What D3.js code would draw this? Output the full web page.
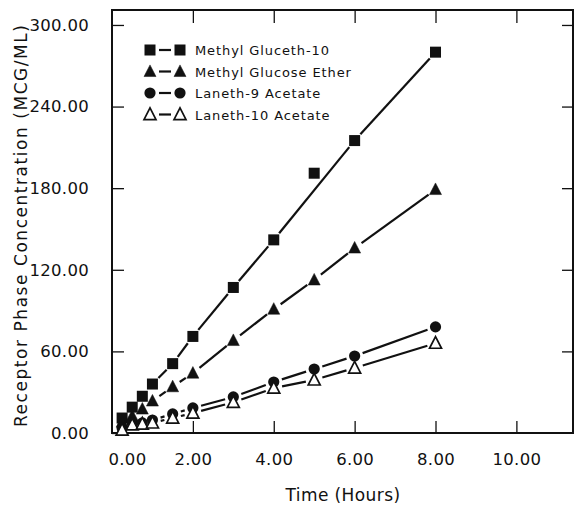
<!DOCTYPE html>
<html>
<head>
<meta charset="utf-8">
<script src="https://cdn.jsdelivr.net/npm/d3@7"></script>
<style>
  body { margin: 0; background: #fff; }
  text { font-family: "DejaVu Sans", sans-serif; fill: #111; }
</style>
</head>
<body>
<div id="chart"></div>
<script>
const w = 575;
const h = 505;

// hours
const times = [0.25, 0.5, 0.75, 1, 1.5, 2, 3, 4, 5, 6, 8];
const glucethVals = [11, 19, 27, 36, 51, 71, 107, 142, 191, 215, 280];
const glucoseVals = [8, 12.5, 17.6, 23.5, 34, 44, 68, 91, 112.5, 136, 179];
const laneth9Vals = [3.7, 7.4, 7.4, 9.5, 14, 18.4, 26.5, 37.5, 47, 56.6, 78];
const laneth10Vals = [2.2, 6, 6.6, 7.4, 11, 14.7, 22.5, 33, 39, 47.8, 66];
// the drawn line skips the 5 h point of gluceth (it sits off the line)
const glucethLineSkip = [5];

const names = ['Methyl Gluceth-10', 'Methyl Glucose Ether', 'Laneth-9 Acetate', 'Laneth-10 Acetate'];
const symbols = ['square', 'triangle', 'circle', 'opentri'];
const xTicks = [0, 2, 4, 6, 8, 10];
const yTicks = [0, 60, 120, 180, 240, 300];

const series = [
    { name: names[0], sym: symbols[0], vals: glucethVals, skip: glucethLineSkip },
    { name: names[1], sym: symbols[1], vals: glucoseVals, skip: [] },
    { name: names[2], sym: symbols[2], vals: laneth9Vals, skip: [] },
    { name: names[3], sym: symbols[3], vals: laneth10Vals, skip: [] }
];

const svg = d3.select('#chart').append('svg').attr('width', w).attr('height', h);

const xScale = d3.scaleLinear().domain([0, 11.4]).range([112, 573]);
const yScale = d3.scaleLinear().domain([0, 311]).range([433, 10]);

const pLeft = xScale.range()[0], pRight = xScale.range()[1];
const pTop = yScale.range()[1], pBottom = yScale.range()[0];

// frame
svg.append('rect')
    .attr('x', pLeft).attr('y', pTop)
    .attr('width', pRight - pLeft).attr('height', pBottom - pTop)
    .attr('fill', 'none').attr('stroke', '#111').attr('stroke-width', 2);

// axes with inward ticks
const yAxisL = d3.axisLeft(yScale).tickValues(yTicks).tickSizeInner(-12).tickSizeOuter(0)
    .tickFormat(d => d.toFixed(2)).tickPadding(23);
const gy = svg.append('g').attr('transform', `translate(${pLeft},0)`).call(yAxisL);
gy.select('.domain').remove();
gy.selectAll('line').attr('stroke', '#111').attr('stroke-width', 1.3);
gy.selectAll('text').attr('font-size', 16.5).attr('letter-spacing', 0.3);

const yAxisR = d3.axisRight(yScale).tickValues(yTicks.filter(d => d > 0)).tickSizeInner(-11).tickSizeOuter(0).tickFormat('');
const gyr = svg.append('g').attr('transform', `translate(${pRight},0)`).call(yAxisR);
gyr.select('.domain').remove();
gyr.selectAll('line').attr('stroke', '#111').attr('stroke-width', 1.3);

const xAxisB = d3.axisBottom(xScale).tickValues(xTicks).tickSizeInner(-12).tickSizeOuter(0)
    .tickFormat(d => d.toFixed(2)).tickPadding(20);
const gx = svg.append('g').attr('transform', `translate(0,${pBottom})`).call(xAxisB);
gx.select('.domain').remove();
gx.selectAll('line').attr('stroke', '#111').attr('stroke-width', 1.3)
    .attr('opacity', d => d === 0 ? 0 : 1);
gx.selectAll('text').attr('font-size', 16.5).attr('letter-spacing', 0.3)
    .attr('dx', d => d === 0 ? 15 : 0);

const xAxisT = d3.axisTop(xScale).tickValues(xTicks.filter(d => d > 0)).tickSizeInner(-13).tickSizeOuter(0).tickFormat('');
const gxt = svg.append('g').attr('transform', `translate(0,${pTop})`).call(xAxisT);
gxt.select('.domain').remove();
gxt.selectAll('line').attr('stroke', '#111').attr('stroke-width', 1.3);

// axis titles
svg.append('text')
    .attr('x', 343).attr('y', 501)
    .attr('text-anchor', 'middle')
    .attr('font-size', 17).attr('letter-spacing', 0.4)
    .text('Time (Hours)');

svg.append('text')
    .attr('transform', 'translate(27,226) rotate(-90)')
    .attr('text-anchor', 'middle')
    .attr('font-size', 17)
    .attr('textLength', 402).attr('lengthAdjust', 'spacing')
    .text('Receptor  Phase  Concentration  (MCG/ML)');

// marker drawing
function drawMarker(g, sym, x, y) {
    if (sym === 'square') {
        g.append('rect').attr('x', x - 5.5).attr('y', y - 5.5).attr('width', 11).attr('height', 11).attr('fill', '#111');
    } else if (sym === 'circle') {
        g.append('circle').attr('cx', x).attr('cy', y).attr('r', 5.6).attr('fill', '#111');
    } else {
        const s = 12;
        const pts = [[x, y - s * 0.55], [x - s / 2, y + s * 0.42], [x + s / 2, y + s * 0.42]];
        g.append('path').attr('d', 'M' + pts.join('L') + 'Z')
            .attr('fill', sym === 'triangle' ? '#111' : '#fff')
            .attr('stroke', '#111').attr('stroke-width', sym === 'triangle' ? 0.5 : 1.7);
    }
}

// segments between points, stopping short of the markers
function drawGapLine(g, pts, gap) {
    for (let i = 0; i < pts.length - 1; i++) {
        const [x1, y1] = pts[i];
        const [x2, y2] = pts[i + 1];
        const len = Math.hypot(x2 - x1, y2 - y1);
        if (len <= gap * 2) continue;
        const ux = (x2 - x1) / len, uy = (y2 - y1) / len;
        g.append('line')
            .attr('x1', x1 + ux * gap).attr('y1', y1 + uy * gap)
            .attr('x2', x2 - ux * gap).attr('y2', y2 - uy * gap)
            .attr('stroke', '#111').attr('stroke-width', 2.2);
    }
}

const plot = svg.append('g');
series.forEach(s => {
    const linePts = times
        .map((t, i) => [t, s.vals[i]])
        .filter(d => !s.skip.includes(d[0]))
        .map(d => [xScale(d[0]), yScale(d[1])]);
    drawGapLine(plot, linePts, 8.5);
});
series.forEach(s => {
    times.forEach((t, i) => drawMarker(plot, s.sym, xScale(t), yScale(s.vals[i])));
});

// legend
const legend = svg.append('g');
series.forEach((s, i) => {
    const y = 50 + i * 21.5;
    drawMarker(legend, s.sym, 150, y);
    drawMarker(legend, s.sym, 180, y);
    legend.append('line').attr('x1', 159).attr('x2', 171).attr('y1', y).attr('y2', y)
        .attr('stroke', '#111').attr('stroke-width', 2.2);
    legend.append('text').attr('x', 195).attr('y', y + 5)
        .attr('font-size', 13).attr('letter-spacing', 0.9)
        .text(s.name);
});
</script>
</body>
</html>
